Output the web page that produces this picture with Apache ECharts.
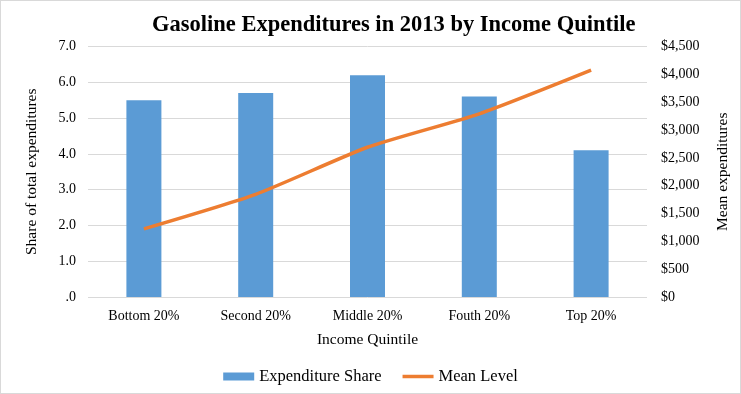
<!DOCTYPE html>
<html><head><meta charset="utf-8">
<script src="https://cdn.jsdelivr.net/npm/echarts@6/dist/echarts.min.js"></script>
<style>html,body{margin:0;padding:0;background:#fff}#c{width:741px;height:394px;box-sizing:border-box;border:1px solid #d9d9d9}</style>
</head><body><div id="c"></div>
<script>
const categories = ['Bottom 20%', 'Second 20%', 'Middle 20%', 'Fouth 20%', 'Top 20%'];
const expenditureShare = [5.5, 5.7, 6.2, 5.6, 4.1];
const meanLevel = [1225, 1845, 2690, 3290, 4075];
const leftTicks = [0, 1, 2, 3, 4, 5, 6, 7];
const rightTicks = [0, 500, 1000, 1500, 2000, 2500, 3000, 3500, 4000, 4500];

const font = 'Liberation Serif';
const chart = echarts.init(document.getElementById('c'));
chart.setOption({
  animation: false,
  textStyle: { fontFamily: font },
  title: { text: 'Gasoline Expenditures in 2013 by Income Quintile', left: 146, top: 8,
    textStyle: { fontFamily: font, fontWeight: 'bold', fontSize: 22.5, color: '#000' } },
  grid: { left: 87, right: 93, top: 45.5, bottom: 96 },
  legend: { top: 362, left: 'center', itemGap: 21, itemWidth: 31, itemHeight: 8,
    symbolKeepAspect: true,
    textStyle: { fontFamily: font, fontSize: 16.5, color: '#000' },
    data: [{ name: 'Expenditure Share', icon: 'rect' },
           { name: 'Mean Level', icon: 'path://M0,0H62V7H0Z' }] },
  xAxis: { type: 'category', data: categories,
    name: 'Income Quintile', nameLocation: 'middle', nameGap: 35,
    nameTextStyle: { fontFamily: font, fontSize: 15.5, color: '#000' },
    axisLine: { show: false }, axisTick: { show: false },
    axisLabel: { fontFamily: font, fontSize: 14, color: '#000', margin: 12 } },
  yAxis: [
    { type: 'value', min: leftTicks[0], max: leftTicks[leftTicks.length - 1], interval: 1,
      name: 'Share of total expenditures', nameLocation: 'middle', nameGap: 48,
      nameTextStyle: { fontFamily: font, fontSize: 15.5, color: '#000' },
      axisLabel: { fontFamily: font, fontSize: 14, color: '#000', margin: 12,
        formatter: v => v === 0 ? '.0' : v.toFixed(1) },
      splitLine: { lineStyle: { color: '#d9d9d9', width: 1 } } },
    { type: 'value', min: rightTicks[0], max: rightTicks[rightTicks.length - 1], interval: 500,
      name: 'Mean expenditures', nameLocation: 'middle', nameGap: 68, nameRotate: 90,
      nameTextStyle: { fontFamily: font, fontSize: 15.5, color: '#000' },
      axisLabel: { fontFamily: font, fontSize: 14, color: '#000', margin: 14,
        formatter: v => '$' + v.toLocaleString('en-US') },
      splitLine: { show: false } }
  ],
  series: [
    { name: 'Expenditure Share', type: 'bar', data: expenditureShare, barWidth: 35,
      itemStyle: { color: '#5B9BD5' } },
    { name: 'Mean Level', type: 'line', yAxisIndex: 1, data: meanLevel, smooth: 0.2,
      symbol: 'none', lineStyle: { color: '#ED7D31', width: 3.5 }, itemStyle: { color: '#ED7D31' } }
  ]
});
</script></body></html>
